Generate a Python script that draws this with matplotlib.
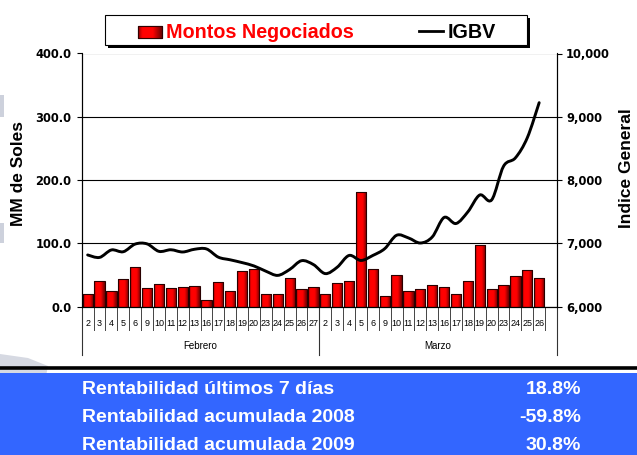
import numpy as np
import matplotlib
matplotlib.use("Agg")
import matplotlib.pyplot as plt
from matplotlib.colors import LinearSegmentedColormap
from matplotlib.patches import Rectangle, PathPatch, Polygon
from matplotlib.path import Path
from matplotlib.lines import Line2D
import matplotlib.transforms as mtransforms

# ---------------- data ----------------
dias_feb = ["2", "3", "4", "5", "6", "9", "10", "11", "12", "13", "16", "17", "18", "19", "20",
            "23", "24", "25", "26", "27"]
dias_mar = ["2", "3", "4", "5", "6", "9", "10", "11", "12", "13", "16", "17", "18", "19", "20",
            "23", "24", "25", "26"]
meses = ["Febrero", "Marzo"]

montos_feb = [20, 40, 25, 43, 62, 30, 36, 28.5, 30.5, 32, 9.5, 38, 25, 55.5, 60,
              20, 20.5, 45, 28, 31.5]
montos_mar = [19.7, 36.6, 40.4, 180.6, 59, 16.5, 50.5, 25, 27, 33.4, 31, 19.7, 41, 96.7, 28.2,
              34, 49, 58, 45.2]

igbv_feb = [6815, 6776, 6894, 6866, 6987, 6990, 6872, 6897, 6862, 6905, 6910, 6780, 6738, 6694, 6641,
            6558, 6492, 6585, 6724, 6663]
igbv_mar = [6520, 6621, 6807, 6728, 6807, 6914, 7126, 7084, 7004, 7099, 7408, 7312, 7497, 7763, 7685,
            8217, 8350, 8668, 9223]

left_ticks = [0, 100, 200, 300, 400]
right_ticks = [6000, 7000, 8000, 9000, 10000]

tabla_labels = ["Rentabilidad últimos 7 días", "Rentabilidad acumulada 2008", "Rentabilidad acumulada 2009"]
tabla_values = ["18.8%", "-59.8%", "30.8%"]

# ---------------- figure ----------------
W, H = 637, 455
fig = plt.figure(figsize=(W / 100, H / 100), dpi=100)
fig.patch.set_facecolor("white")

SANS = ["Liberation Sans", "DejaVu Sans"]

# background (pixel coordinates) axes
bg = fig.add_axes([0, 0, 1, 1], zorder=-1)
bg.set_xlim(0, W)
bg.set_ylim(H, 0)
bg.axis("off")

# faint decorative shapes at left
for (y0, y1) in [(95, 117), (223, 243)]:
    bg.add_patch(Rectangle((0, y0), 4, y1 - y0, facecolor="#cdd1dc", edgecolor="none"))
bg.add_patch(Polygon([(0, 354), (28, 358), (48, 366), (46, 376), (0, 376)], closed=True,
                     facecolor="#d6d9e2", edgecolor="none"))

# blue panel
bg.add_patch(Rectangle((0, 372.7), W, H - 372.7, facecolor="#3366ff", edgecolor="none"))
bg.add_line(Line2D([0, W], [368.3, 368.3], color="black", lw=2.6))

row_base = [394.5, 422.5, 450.3]
for lab, val, yb in zip(tabla_labels, tabla_values, row_base):
    bg.text(81.5, yb, lab, color="white", fontsize=14, fontweight="bold", family=SANS,
            ha="left", va="baseline")
    bg.text(581, yb, val, color="white", fontsize=14, fontweight="bold", family=SANS,
            ha="right", va="baseline")

# legend box
bg.add_patch(Rectangle((108, 18), 422, 30, facecolor="black", edgecolor="none"))
bg.add_patch(Rectangle((105, 15), 422, 30, facecolor="white", edgecolor="black", lw=0.8))
cmap_bar = LinearSegmentedColormap.from_list(
    "bar", [(0, "#8a0000"), (0.18, "#ff0000"), (0.62, "#ff0000"), (1, "#6a0000")])
grad = np.linspace(0, 1, 64).reshape(1, -1)
leg_patch = Rectangle((138, 25.7), 24, 12, facecolor="#ff0000", edgecolor="#300000", lw=0.8)
bg.add_patch(leg_patch)
im = bg.imshow(grad, cmap=cmap_bar, aspect="auto", extent=[138, 162, 37.7, 25.7],
               interpolation="bicubic", zorder=2)
im.set_clip_path(leg_patch)
bg.add_patch(Rectangle((138, 25.7), 24, 12, fill=False, edgecolor="#300000", lw=0.8, zorder=3))
bg.text(166.5, 38.3, "Montos Negociados", color="#ff0000", fontsize=14.2, fontweight="bold",
        family=SANS, ha="left", va="baseline")
bg.add_line(Line2D([419, 443], [30.7, 30.7], color="black", lw=2))
bg.text(447.5, 38.3, "IGBV", color="black", fontsize=14.2, fontweight="bold",
        family=SANS, ha="left", va="baseline")
bg.set_xlim(0, W)
bg.set_ylim(H, 0)

# ---------------- main chart ----------------
L, R, T, B = 81.7, 557.0, 53.5, 306.5
ax = fig.add_axes([L / W, 1 - B / H, (R - L) / W, (B - T) / H])
ax.set_facecolor("white")

montos = montos_feb + montos_mar
igbv = igbv_feb + igbv_mar
dias = dias_feb + dias_mar
n = len(montos)
nslots = n + 1
x = np.arange(n)

ax.set_axisbelow(True)
bars = ax.bar(x, montos, width=0.86, color="#ff0000", edgecolor="none", zorder=2)
for b in bars:
    imb = ax.imshow(grad, cmap=cmap_bar, aspect="auto",
                    extent=[b.get_x(), b.get_x() + b.get_width(), 0, b.get_height()],
                    interpolation="bicubic", zorder=2.5)
    imb.set_clip_path(b)
ax.bar(x, montos, width=0.86, fill=False, edgecolor="#2a0000", linewidth=0.8, zorder=3)

ax.set_xlim(-0.5, nslots - 0.5)
ax.set_ylim(0, 400)
ax.set_yticks(left_ticks)
ax.set_yticklabels([f"{v:.1f}" for v in left_ticks])
ax.yaxis.grid(True, color="black", lw=0.8)
ax.set_xticks([])
ax.spines["top"].set_visible(False)
for s in ["left", "right", "bottom"]:
    ax.spines[s].set_linewidth(0.8)
    ax.spines[s].set_color("black")
ax.tick_params(axis="y", direction="out", length=3.5, width=0.8, pad=4, labelsize=8.3)
for t in ax.get_yticklabels():
    t.set_fontweight("bold")
    t.set_family("DejaVu Sans")

ax.set_ylabel("MM de Soles", fontsize=12.5, fontweight="bold", family=SANS)
ax.yaxis.label.set_va("center")
ax.yaxis.set_label_coords((19 - L) / (R - L), (B - 173.5) / (B - T))

# category table below the axis
trans = mtransforms.blended_transform_factory(ax.transData, ax.transAxes)
y_lab = (B - 323) / (B - T)
y_short = (B - 330) / (B - T)
y_long = (B - 355) / (B - T)
for i, d in enumerate(dias):
    ax.text(i, y_lab, d, transform=trans, ha="center", va="center", fontsize=6.5,
            family=SANS, clip_on=False)
for k in range(nslots):
    ax.add_line(Line2D([k - 0.5, k - 0.5], [0, y_short], transform=trans, color="#444444",
                       lw=0.7, clip_on=False))
nf = len(dias_feb)
for xb in [-0.5, nf - 0.5, nslots - 0.5]:
    ax.add_line(Line2D([xb, xb], [0, y_long], transform=trans, color="#333333",
                       lw=0.8, clip_on=False))
y_mes = (B - 346) / (B - T)
ax.text((nf - 1) / 2, y_mes, meses[0], transform=trans, ha="center", va="center",
        fontsize=7, family=SANS, clip_on=False)
ax.text((nf - 0.5 + nslots - 0.5) / 2, y_mes, meses[1], transform=trans, ha="center",
        va="center", fontsize=7, family=SANS, clip_on=False)

# ---------------- IGBV line on right axis ----------------
ax2 = ax.twinx()
ax2.set_ylim(6000, 10000)
ax2.set_xlim(-0.5, nslots - 0.5)
ax2.set_yticks(right_ticks)
ax2.set_yticklabels([f"{v:,}" for v in right_ticks])
ax2.tick_params(axis="y", direction="out", length=3.8, width=0.8, pad=2.7, labelsize=8.3)
for t in ax2.get_yticklabels():
    t.set_fontweight("bold")
    t.set_family("DejaVu Sans")
ax2.spines["top"].set_visible(False)
for s in ["left", "right", "bottom"]:
    ax2.spines[s].set_linewidth(0.8)

pts = np.column_stack([x.astype(float), np.array(igbv, dtype=float)])
verts = [pts[0]]
codes = [Path.MOVETO]
for i in range(n - 1):
    p0 = pts[i - 1] if i > 0 else pts[i]
    p1 = pts[i]
    p2 = pts[i + 1]
    p3 = pts[i + 2] if i + 2 < n else pts[i + 1]
    c1 = p1 + (p2 - p0) / 6.0
    c2 = p2 - (p3 - p1) / 6.0
    verts += [c1, c2, p2]
    codes += [Path.CURVE4] * 3
ax2.add_patch(PathPatch(Path(verts, codes), fill=False, lw=2.1, edgecolor="black",
                        capstyle="round", joinstyle="round", zorder=4))

ax2.set_ylabel("Indice General", fontsize=12.5, fontweight="bold", family=SANS, rotation=90)
ax2.yaxis.label.set_va("center")
ax2.yaxis.set_label_coords((626.5 - L) / (R - L), (B - 168) / (B - T))

fig.savefig("out.png", dpi=100)
